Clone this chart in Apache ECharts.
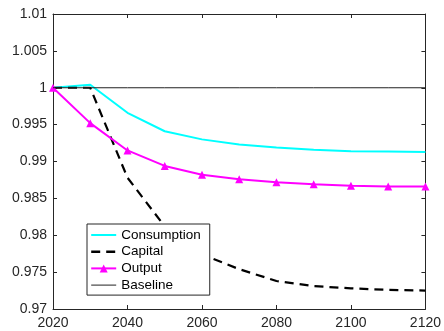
<!DOCTYPE html>
<html>
<head>
<meta charset="utf-8">
<script src="https://cdn.jsdelivr.net/npm/echarts@6/dist/echarts.min.js"></script>
<style>
  html, body { margin: 0; padding: 0; background: #fff; }
  #chart { width: 444px; height: 331px; }
</style>
</head>
<body>
<div id="chart"></div>
<script>
// Years on the horizontal axis
var years = [2020, 2030, 2040, 2050, 2060, 2070, 2080, 2090, 2100, 2110, 2120];

// Series values, relative to baseline (= 1)
var consumption = [1.0, 1.0004, 0.9966, 0.9941, 0.9930, 0.9923, 0.9919, 0.9916, 0.9914, 0.99135, 0.9913];
var capital     = [1.0, 1.0, 0.9878, 0.9812, 0.9774, 0.9754, 0.9738, 0.9731, 0.9728, 0.9726, 0.9725];
var output      = [1.0, 0.9952, 0.9915, 0.9894, 0.9882, 0.9876, 0.9872, 0.9869, 0.9867, 0.9866, 0.9866];
var baseline    = [1.0, 1.0, 1.0, 1.0, 1.0, 1.0, 1.0, 1.0, 1.0, 1.0, 1.0];

// Axis ticks
var xTicks = [2020, 2040, 2060, 2080, 2100, 2120];
var yTicks = [0.97, 0.975, 0.98, 0.985, 0.99, 0.995, 1, 1.005, 1.01];

var seriesNames = ['Consumption', 'Capital', 'Output', 'Baseline'];

function pairs(vals) {
  return years.map(function (y, i) { return [y, vals[i]]; });
}

var axisColor = '#262626';
var font = 'Liberation Sans, Arial, Helvetica, sans-serif';

var xStep = xTicks[1] - xTicks[0];
var yStep = 0.005;

function xAxisDef(pos, showLabel) {
  return {
    type: 'value',
    position: pos,
    min: xTicks[0],
    max: xTicks[xTicks.length - 1],
    interval: xStep,
    axisLine: { show: true, onZero: false, lineStyle: { color: axisColor, width: 1 } },
    axisTick: { show: true, inside: true, length: 4, lineStyle: { color: axisColor } },
    splitLine: { show: false },
    axisLabel: {
      show: showLabel, margin: 7, color: axisColor,
      fontSize: 14, fontFamily: font,
      formatter: function (v) { return String(v); }
    }
  };
}

function yAxisDef(pos, showLabel) {
  return {
    type: 'value',
    position: pos,
    min: yTicks[0],
    max: yTicks[yTicks.length - 1],
    interval: yStep,
    axisLine: { show: true, onZero: false, lineStyle: { color: axisColor, width: 1 } },
    axisTick: { show: true, inside: true, length: 4, lineStyle: { color: axisColor } },
    splitLine: { show: false },
    axisLabel: {
      show: showLabel, margin: 6, color: axisColor,
      fontSize: 14, fontFamily: font,
      formatter: function (v) { return String(+v.toFixed(3)); }
    }
  };
}

// Legend entries: plain lines carry no marker, Output shows its triangle
var legendLineWidth = { Consumption: 2, Capital: 2.4, Output: 2, Baseline: 1 };
var legendData = seriesNames.map(function (n) {
  var item = { name: n, lineStyle: { width: legendLineWidth[n] } };
  if (n !== 'Output') item.itemStyle = { opacity: 0 };
  return item;
});

var chart = echarts.init(document.getElementById('chart'), null, { renderer: 'canvas' });

chart.setOption({
  animation: false,
  backgroundColor: '#fff',
  grid: { left: 53, right: 17.5, top: 14, bottom: 22, containLabel: false },
  xAxis: [xAxisDef('bottom', true), xAxisDef('top', false)],
  yAxis: [yAxisDef('left', true), yAxisDef('right', false)],
  legend: {
    data: legendData,
    orient: 'vertical',
    left: 87,
    top: 224,
    padding: [4, 9, 3, 3],
    itemWidth: 25,
    itemHeight: 10,
    itemGap: 2.7,
    backgroundColor: '#fff',
    borderColor: axisColor,
    borderWidth: 1,
    borderRadius: 0,
    textStyle: { fontSize: 13.5, lineHeight: 14, fontFamily: font, color: '#000' }
  },
  series: [
    {
      name: 'Consumption',
      type: 'line',
      data: pairs(consumption),
      symbol: 'none',
      lineStyle: { color: '#00FFFF', width: 2 },
      itemStyle: { color: '#00FFFF' },
      z: 2
    },
    {
      name: 'Capital',
      type: 'line',
      data: pairs(capital),
      symbol: 'none',
      lineStyle: { color: '#000', width: 2.2, type: [9, 6] },
      itemStyle: { color: '#000' },
      z: 3
    },
    {
      name: 'Output',
      type: 'line',
      data: pairs(output),
      symbol: 'triangle',
      symbolSize: 8,
      lineStyle: { color: '#FF00FF', width: 2 },
      itemStyle: { color: '#FF00FF' },
      z: 4
    },
    {
      name: 'Baseline',
      type: 'line',
      data: pairs(baseline),
      symbol: 'none',
      lineStyle: { color: '#222', width: 1 },
      itemStyle: { color: '#222' },
      z: 5
    }
  ]
});
</script>
</body>
</html>
